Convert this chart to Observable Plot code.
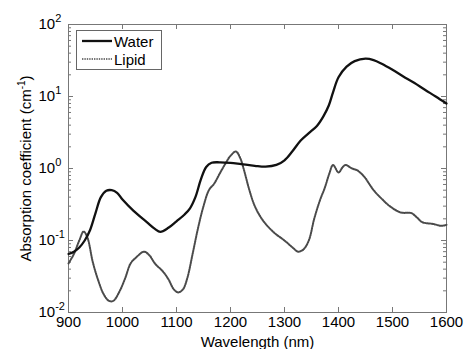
<!DOCTYPE html>
<html><head><meta charset="utf-8">
<script src="https://cdn.jsdelivr.net/npm/d3@7"></script>
<script src="https://cdn.jsdelivr.net/npm/@observablehq/plot@0.6"></script>
<style>
body{margin:0;background:#fff}
#wrap{position:relative;width:467px;height:349px;font-family:"Liberation Sans",Arial,sans-serif}
#legend{position:absolute;left:76px;top:30px}
</style></head>
<body><div id="wrap"></div>
<script>
const waterWl  = [900,910,920,930,940,950,960,970,980,990,1000,1020,1045,1060,1070,1085,1100,1115,1125,1135,1145,1155,1165,1180,1200,1220,1245,1265,1285,1300,1315,1330,1345,1360,1372,1382,1390,1400,1415,1430,1450,1465,1480,1500,1520,1540,1560,1580,1600];
const waterVal = [0.065,0.07,0.08,0.1,0.14,0.24,0.4,0.49,0.5,0.46,0.37,0.26,0.18,0.145,0.132,0.15,0.185,0.23,0.28,0.4,0.7,1.05,1.2,1.22,1.2,1.15,1.09,1.06,1.12,1.3,1.75,2.45,3.1,3.9,5.3,7.5,11.5,18.5,26,31,33.5,32,28.5,23.5,19,15.5,12.4,10,8.0];
const lipidWl  = [900,910,920,928,935,945,955,965,975,983,995,1005,1015,1025,1040,1050,1060,1075,1085,1095,1103,1112,1120,1130,1140,1150,1160,1170,1180,1190,1200,1210,1218,1225,1235,1245,1260,1280,1300,1315,1325,1335,1345,1355,1365,1375,1383,1390,1400,1408,1413,1425,1435,1447,1465,1480,1495,1515,1535,1545,1555,1575,1590,1600];
const lipidVal = [0.048,0.065,0.1,0.133,0.11,0.05,0.028,0.018,0.0145,0.0145,0.02,0.03,0.048,0.058,0.07,0.062,0.048,0.037,0.029,0.021,0.019,0.021,0.03,0.066,0.15,0.3,0.5,0.62,0.85,1.15,1.5,1.72,1.4,0.95,0.5,0.3,0.19,0.13,0.1,0.08,0.07,0.075,0.1,0.2,0.35,0.55,0.85,1.12,0.88,1.05,1.12,1.0,0.94,0.78,0.5,0.38,0.3,0.245,0.24,0.21,0.18,0.17,0.16,0.165];
const xTicks = [900,1000,1100,1200,1300,1400,1500,1600];
const yMajor = [0.01,0.1,1,10,100];
const seriesNames = ["Water","Lipid"];

const water = waterWl.map((w,i)=>({wl:w, v:waterVal[i]}));
const lipid = lipidWl.map((w,i)=>({wl:w, v:lipidVal[i]}));
const yMinor = [];
for (let e=-2;e<2;e++) for (let m=2;m<10;m++) yMinor.push(m*Math.pow(10,e));

const W=467,H=349,mL=68,mR=21,mT=24,mB=37;
const iW=W-mL-mR, iH=H-mT-mB;
const font='"Liberation Sans",Arial,sans-serif';
const fc="#777";
const lipidStyle={stroke:"#4a4a4a",w:2,dash:"1.4,1"};

const plot = Plot.plot({
  width:W,height:H,marginLeft:mL,marginRight:mR,marginTop:mT,marginBottom:mB,
  style:{fontFamily:font,fontSize:"15px",color:"#000",background:"#fff",overflow:"visible"},
  x:{domain:[900,1600]},
  y:{type:"log",domain:[0.01,100],axis:null},
  marks:[
    Plot.tickY(yMajor,{y:d=>d,insetRight:iW-5,stroke:fc}),
    Plot.tickY(yMinor,{y:d=>d,insetRight:iW-3,stroke:fc}),
    Plot.tickY(yMajor,{y:d=>d,insetLeft:iW-5,stroke:fc}),
    Plot.tickY(yMinor,{y:d=>d,insetLeft:iW-3,stroke:fc}),
    Plot.tickX(xTicks,{x:d=>d,insetTop:iH-5,stroke:fc}),
    Plot.tickX(xTicks,{x:d=>d,insetBottom:iH-5,stroke:fc}),
    Plot.frame({stroke:fc}),
    Plot.line(lipid,{x:"wl",y:"v",stroke:lipidStyle.stroke,strokeWidth:lipidStyle.w,strokeDasharray:lipidStyle.dash,curve:"catmull-rom"}),
    Plot.line(water,{x:"wl",y:"v",stroke:"#111",strokeWidth:2.3,curve:"catmull-rom"}),
    Plot.axisX({ticks:xTicks,tickSize:0,tickPadding:4,tickFormat:d=>String(d),label:"Wavelength (nm)",labelAnchor:"center",labelOffset:34,labelArrow:"none"}),
    Plot.text(yMajor,{y:d=>d,frameAnchor:"left",dx:-30,textAnchor:"start",text:d=>"10|"+Math.round(Math.log10(d))}),
    Plot.text(["Absorption coefficient (cm|-1|)"],{frameAnchor:"left",dx:-42,rotate:-90,textAnchor:"middle",text:d=>d})
  ]
});

d3.select(plot).selectAll("text").each(function(){
  const t=this.textContent;
  if (!t.includes("|")) return;
  const parts=t.split("|");
  const s=d3.select(this); s.text("");
  s.append("tspan").text(parts[0]);
  if (parts.length===2) {
    s.append("tspan").attr("dy",-7).attr("font-size","11px").text(parts[1]);
  } else {
    s.append("tspan").attr("dy",-6).attr("font-size","10px").text(parts[1]);
    s.append("tspan").attr("dy",6).text(parts[2]);
  }
});

const wrap=document.getElementById("wrap");
wrap.appendChild(plot);

// legend
const lg = d3.select(wrap).append("svg").attr("id","legend").attr("width",87).attr("height",41)
  .style("font-family",font).style("font-size","15px");
lg.append("rect").attr("x",0.5).attr("y",0.5).attr("width",85).attr("height",39).attr("fill","#fff").attr("stroke","#666");
const styles=[{stroke:"#111",w:2.3,dash:null},lipidStyle];
seriesNames.forEach((n,i)=>{
  const y=11+i*18;
  lg.append("line").attr("x1",6).attr("x2",36).attr("y1",y).attr("y2",y)
    .attr("stroke",styles[i].stroke).attr("stroke-width",i?1.5:styles[i].w).attr("stroke-dasharray",styles[i].dash);
  lg.append("text").attr("x",38).attr("y",y+5.5).text(n);
});
</script></body></html>
